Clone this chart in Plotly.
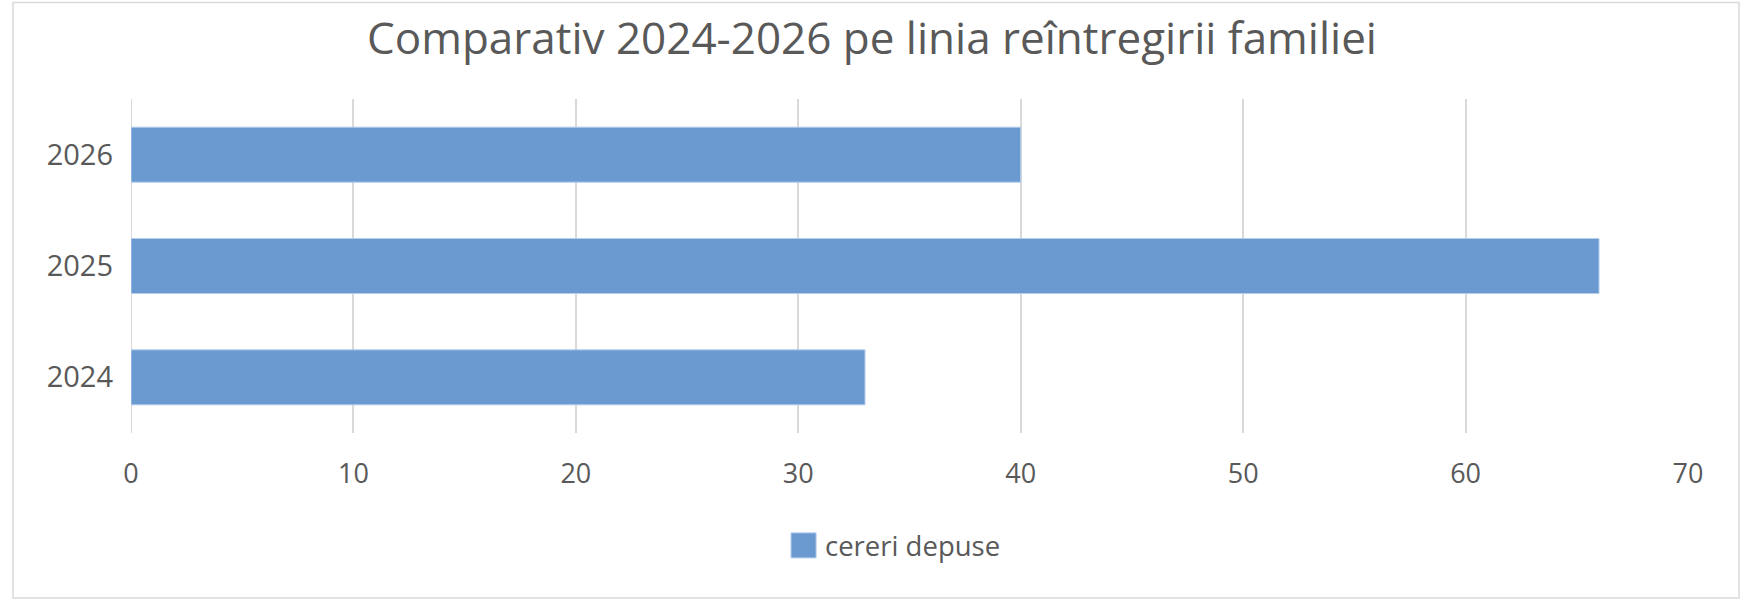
import plotly.graph_objects as go

# --- Data ---
years = ["2024", "2025", "2026"]
cereri_depuse = [33, 66, 40]
x_ticks = [0, 10, 20, 30, 40, 50, 60, 70]

bar_color = "#6a9ad0"
text_color = "#595959"
grid_color = "#d9d9d9"

fig = go.Figure(go.Bar(
    y=years,
    x=cereri_depuse,
    orientation="h",
    name="cereri depuse",
    marker=dict(color=bar_color, line=dict(color="#b4cdec", width=1)),
    showlegend=False,
))

fig.update_layout(
    width=1744,
    height=600,
    margin=dict(l=131, r=56, t=99, b=167),
    paper_bgcolor="white",
    plot_bgcolor="white",
    font=dict(family="Open Sans", size=27, color=text_color),
    bargap=0.506,
    title=dict(
        text="Comparativ 2024-2026 pe linia reîntregirii familiei",
        x=0.5, xanchor="center",
        y=0.935, yanchor="middle",
        font=dict(family="Open Sans", size=44, color=text_color),
    ),
)

fig.update_xaxes(
    range=[0, 70],
    tickvals=x_ticks,
    showgrid=True, gridcolor=grid_color, gridwidth=2,
    zeroline=False, showline=False,
    ticks="", ticklabelstandoff=22,
    fixedrange=True,
)
fig.update_yaxes(
    showgrid=False, zeroline=False, showline=False,
    ticks="", ticklabelstandoff=17,
    tickfont=dict(size=29),
    fixedrange=True,
)

# left gridline at 0 (grid draws it at the plot edge)
fig.add_shape(type="line", xref="x", yref="paper", x0=0, x1=0, y0=0, y1=1,
              line=dict(color=grid_color, width=2), layer="below")

# outer chart frame
fig.add_shape(type="rect", xref="paper", yref="paper",
              x0=-0.0758, x1=1.0328, y0=-0.494, y1=1.289,
              line=dict(color="#d9d9d9", width=1.5))

# legend drawn by hand so the swatch matches the original size
fig.add_shape(type="rect", xref="paper", yref="paper",
              x0=0.4239, x1=0.44, y0=-0.374, y1=-0.299,
              fillcolor=bar_color, line=dict(color="#b4cdec", width=1))
fig.add_annotation(text="cereri depuse", xref="paper", yref="paper",
                   x=0.4444, y=-0.338, xanchor="left", yanchor="middle",
                   showarrow=False, font=dict(family="Open Sans", size=27.5, color=text_color))

fig.write_html("out.html", config={"displayModeBar": False},
               post_script="document.body.style.margin='0';")
